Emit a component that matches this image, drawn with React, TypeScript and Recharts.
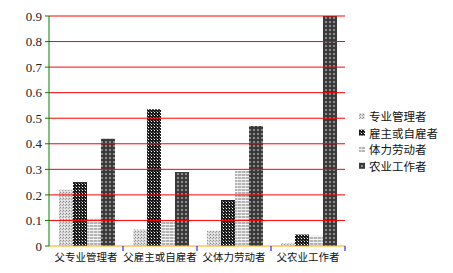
import React from 'react';
import { BarChart, Bar, XAxis, YAxis, ReferenceLine } from 'recharts';

const categories = ['父专业管理者', '父雇主或自雇者', '父体力劳动者', '父农业工作者'];
const seriesNames = ['专业管理者', '雇主或自雇者', '体力劳动者', '农业工作者'];
const professional = [0.22, 0.065, 0.06, 0.01];
const employer = [0.25, 0.535, 0.18, 0.045];
const manual = [0.11, 0.1, 0.295, 0.04];
const farmer = [0.42, 0.29, 0.47, 0.9];
const yTicks = [0, 0.1, 0.2, 0.3, 0.4, 0.5, 0.6, 0.7, 0.8, 0.9];

const seriesValues = [professional, employer, manual, farmer];
const keys = ['s0', 's1', 's2', 's3'];
const patternIds = ['patProf', 'patEmp', 'patMan', 'patFarm'];

const data = categories.map((c, i) => {
  const row: any = { name: c };
  keys.forEach((k, j) => {
    row[k] = seriesValues[j][i];
  });
  return row;
});

const PatternDefs = () => (
  <defs>
    <pattern id="patProf" width={3} height={3} patternUnits="userSpaceOnUse">
      <rect width={3} height={3} fill="#d8d8d8" />
      <rect x={0} y={0} width={1} height={1} fill="#909090" />
      <rect x={2} y={1} width={1} height={1} fill="#a8a8a8" />
      <rect x={1} y={2} width={1} height={1} fill="#f4f4f4" />
    </pattern>
    <pattern id="patEmp" width={3} height={3} patternUnits="userSpaceOnUse">
      <rect width={3} height={3} fill="#1a1a1a" />
      <rect x={1} y={1} width={1} height={1} fill="#ffffff" />
      <rect x={0} y={0} width={1} height={1} fill="#777" />
    </pattern>
    <pattern id="patMan" width={4} height={3} patternUnits="userSpaceOnUse">
      <rect width={4} height={3} fill="#b4b4b4" />
      <rect x={0} y={2} width={4} height={1} fill="#f4f4f4" />
      <rect x={1} y={0} width={1} height={2} fill="#d8d8d8" />
    </pattern>
    <pattern id="patFarm" width={4} height={4} patternUnits="userSpaceOnUse">
      <rect width={4} height={4} fill="#3a3a3a" />
      <rect x={1} y={1} width={2} height={2} fill="#8c8c8c" />
    </pattern>
  </defs>
);

const LegendSvg = () => (
  <g className="custom-legend">
    {seriesNames.map((n, i) => {
      const cy = 116 + i * 16.6;
      return (
        <g key={n}>
          <rect x={359} y={cy - 3} width={6} height={6} fill={`url(#${patternIds[i]})`} />
          <text x={369} y={cy} dominantBaseline="central" fontSize={11.5} fill="#111" fontFamily="'Noto Sans CJK SC', sans-serif">
            {n}
          </text>
        </g>
      );
    })}
  </g>
);

const XTick = (props: any) => {
  const { x, y, payload } = props;
  const off = payload && payload.offset ? payload.offset : 37;
  return (
    <g>
      <line x1={x + off} y1={y} x2={x + off} y2={y + 5} stroke="blue" strokeWidth={1} />
      <text x={x} y={y + 15} textAnchor="middle" fontSize={10.5} fill="#111" fontFamily="'Noto Sans CJK SC', sans-serif">
        {payload.value}
      </text>
    </g>
  );
};

export default function App() {
  return (
    <div style={{ position: 'absolute', left: 0, top: 0, width: 453, height: 273, background: '#fff' }}>
      <BarChart width={453} height={273} data={data} margin={{ top: 16, right: 108, bottom: 0, left: 0 }} barCategoryGap="13.5%" barGap={0}>
        <PatternDefs />
        {yTicks.filter((t) => t > 0).map((t) => (
          <ReferenceLine key={t} y={t} stroke="red" strokeWidth={1} />
        ))}
        <XAxis dataKey="name" height={27} tickLine={false} tickSize={0} tickMargin={0} axisLine={{ stroke: 'orange' }} tick={<XTick />} interval={0} />
        <YAxis width={49} domain={[0, 0.9]} ticks={yTicks} interval={0} tickSize={4} tickMargin={3} axisLine={{ stroke: 'green' }} tickLine={{ stroke: 'green' }}
          tick={{ fontSize: 13, fill: '#222', fontFamily: "'Liberation Serif', serif" }}
          tickFormatter={(v: number) => (v === 0 ? '0' : String(Math.round(v * 10) / 10))} />
        {keys.map((k, i) => (
          <Bar key={k} dataKey={k} name={seriesNames[i]} fill={`url(#${patternIds[i]})`} isAnimationActive={false} />
        ))}
        <LegendSvg />
      </BarChart>
    </div>
  );
}
